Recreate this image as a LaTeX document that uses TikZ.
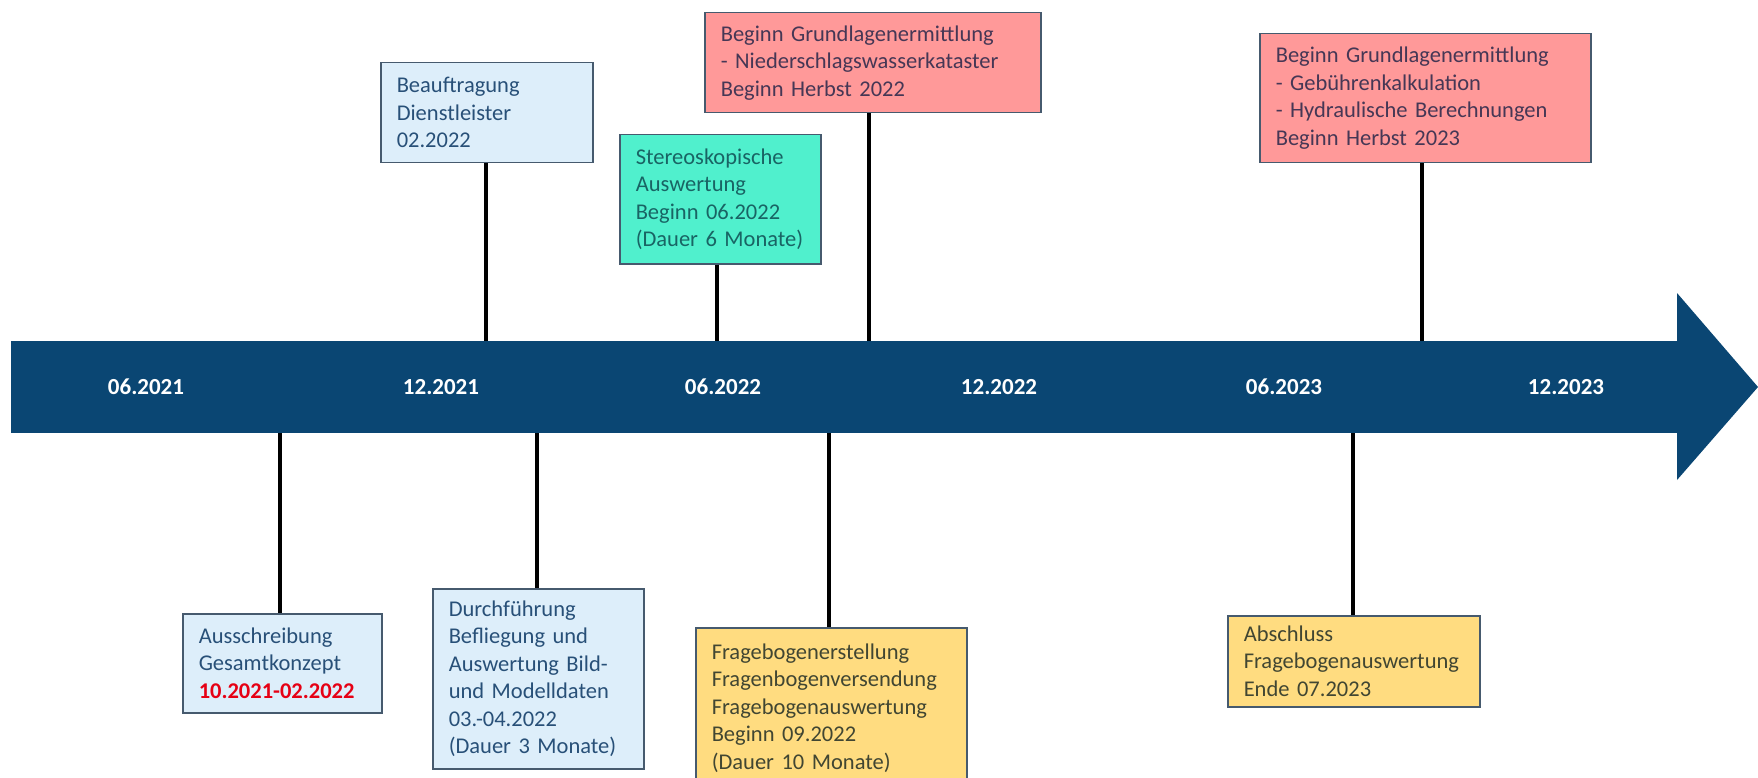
\documentclass[tikz,border=0pt]{standalone}
\usepackage{fontspec}
\setmainfont{Carlito}
\definecolor{arrowblue}{RGB}{10,70,115}
\definecolor{boxline}{RGB}{70,90,110}
\definecolor{lightblue}{RGB}{221,238,250}
\definecolor{bluetext}{RGB}{40,80,120}
\definecolor{aqua}{RGB}{80,240,205}
\definecolor{aquatext}{RGB}{25,100,100}
\definecolor{salmon}{RGB}{255,153,153}
\definecolor{salmontext}{RGB}{70,55,85}
\definecolor{gold}{RGB}{255,220,128}
\definecolor{goldtext}{RGB}{65,70,50}
\definecolor{datered}{RGB}{230,0,20}
\tikzset{
  evbox/.style={draw=boxline, line width=1.5pt, anchor=north west, align=left,
    inner xsep=16pt, inner ysep=0pt, font=\fontsize{22.5}{27.5}\selectfont},
  bluebox/.style={evbox, fill=lightblue, text=bluetext},
  aquabox/.style={evbox, fill=aqua, text=aquatext},
  redbox/.style={evbox, fill=salmon, text=salmontext},
  goldbox/.style={evbox, fill=gold, text=goldtext},
  datelabel/.style={text=white, font=\fontsize{23}{27}\selectfont\bfseries},
  tick/.style={draw=black, line width=4pt}
}
\begin{document}
\begin{tikzpicture}[x=1pt,y=-1pt]
\useasboundingbox (0,0) rectangle (1758,778);
\begin{scope}
\clip (0,0) rectangle (1758,778);
% arrow
\node[fill=arrowblue, anchor=north west, inner sep=0pt, minimum width=1667pt, minimum height=92pt] (shaft) at (11,341) {};
\fill[arrowblue] (1677,293) -- (1758,387) -- (1677,480) -- cycle;
% date labels
\node[datelabel] (d1) at (146,387) {06.2021};
\node[datelabel] (d2) at (441,387) {12.2021};
\node[datelabel] (d3) at (723,387) {06.2022};
\node[datelabel] (d4) at (999,387) {12.2022};
\node[datelabel] (d5) at (1284,387) {06.2023};
\node[datelabel] (d6) at (1566,387) {12.2023};
% top boxes
\node[bluebox, text width=180pt, minimum height=100pt] (b1) at (380,62)
  {Beauftragung\\Dienstleister\\02.2022};
\node[aquabox, text width=169pt, minimum height=129pt] (b2) at (619,134)
  {Stereoskopische\\Auswertung\\Beginn 06.2022\\(Dauer 6 Monate)};
\node[redbox, text width=304pt, minimum height=100pt] (b3) at (704,12)
  {Beginn Grundlagenermittlung\\- Niederschlagswasserkataster\\Beginn Herbst 2022};
\node[redbox, text width=299pt, minimum height=129pt] (b4) at (1259,33)
  {Beginn Grundlagenermittlung\\- Gebührenkalkulation\\- Hydraulische Berechnungen\\Beginn Herbst 2023};
% bottom boxes
\node[bluebox, text width=167pt, minimum height=99pt] (b5) at (182,613)
  {Ausschreibung\\Gesamtkonzept\\\textcolor{datered}{\bfseries 10.2021-02.2022}};
\node[bluebox, text width=179pt, minimum height=180pt] (b6) at (432,588)
  {Durchführung\\Befliegung und\\Auswertung Bild-\\und Modelldaten\\03.-04.2022\\(Dauer 3 Monate)};
\node[goldbox, text width=239pt, minimum height=160pt] (b7) at (695,627)
  {Fragebogenerstellung\\Fragenbogenversendung\\Fragebogenauswertung\\Beginn 09.2022\\(Dauer 10 Monate)};
\node[goldbox, text width=220pt, minimum height=91pt] (b8) at (1227,615)
  {Abschluss\\Fragebogenauswertung\\Ende 07.2023};
% connectors
\coordinate (c1) at (486,0);
\coordinate (c2) at (717,0);
\coordinate (c3) at (869,0);
\coordinate (c4) at (1422,0);
\coordinate (c5) at (280,0);
\coordinate (c6) at (537,0);
\coordinate (c7) at (829,0);
\coordinate (c8) at (1353,0);
\draw[tick] (c1 |- b1.south) -- (c1 |- shaft.north);
\draw[tick] (c2 |- b2.south) -- (c2 |- shaft.north);
\draw[tick] (c3 |- b3.south) -- (c3 |- shaft.north);
\draw[tick] (c4 |- b4.south) -- (c4 |- shaft.north);
\draw[tick] (c5 |- shaft.south) -- (c5 |- b5.north);
\draw[tick] (c6 |- shaft.south) -- (c6 |- b6.north);
\draw[tick] (c7 |- shaft.south) -- (c7 |- b7.north);
\draw[tick] (c8 |- shaft.south) -- (c8 |- b8.north);
\end{scope}
\end{tikzpicture}
\end{document}
